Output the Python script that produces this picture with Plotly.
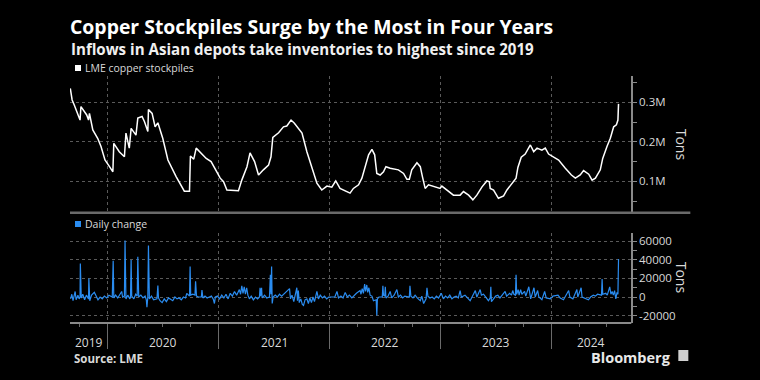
import plotly.graph_objects as go
import pandas as pd

# ---------------- data ----------------
stock_dates = [
    "2019-09-01", "2019-09-07", "2019-09-14", "2019-09-27", "2019-10-03", "2019-10-06",
    "2019-10-17", "2019-10-25", "2019-10-31", "2019-11-03", "2019-11-14", "2019-11-30",
    "2019-12-11", "2019-12-24", "2020-01-08", "2020-01-19", "2020-01-22", "2020-02-09",
    "2020-02-26", "2020-03-02", "2020-03-13", "2020-03-19", "2020-04-04", "2020-04-10",
    "2020-04-24", "2020-05-02", "2020-05-13", "2020-05-15", "2020-05-27", "2020-06-06",
    "2020-06-15", "2020-07-01", "2020-07-18", "2020-08-14", "2020-09-10", "2020-09-27",
    "2020-09-30", "2020-10-11", "2020-10-19", "2020-11-04", "2020-11-21", "2020-12-07",
    "2021-01-06", "2021-01-17", "2021-01-28", "2021-03-07", "2021-03-18", "2021-04-04",
    "2021-04-14", "2021-04-29", "2021-05-12", "2021-05-28", "2021-06-14", "2021-06-22",
    "2021-06-28", "2021-07-17", "2021-08-02", "2021-08-13", "2021-08-27", "2021-09-07",
    "2021-09-15", "2021-10-02", "2021-10-18", "2021-11-03", "2021-11-20", "2021-12-06",
    "2021-12-23", "2022-01-08", "2022-01-21", "2022-02-04", "2022-02-21", "2022-03-09",
    "2022-03-20", "2022-04-06", "2022-04-17", "2022-04-28", "2022-05-09", "2022-05-20",
    "2022-05-29", "2022-06-05", "2022-06-16", "2022-06-27", "2022-07-05", "2022-07-19",
    "2022-08-15", "2022-09-01", "2022-09-12", "2022-09-20", "2022-09-28", "2022-10-15",
    "2022-10-26", "2022-11-02", "2022-11-11", "2022-11-22", "2022-12-14", "2022-12-30",
    "2023-01-05", "2023-01-22", "2023-02-12", "2023-03-06", "2023-03-17", "2023-04-03",
    "2023-04-17", "2023-04-30", "2023-05-17", "2023-06-02", "2023-06-10", "2023-06-13",
    "2023-06-24", "2023-07-10", "2023-07-27", "2023-08-07", "2023-08-23", "2023-09-06",
    "2023-09-12", "2023-09-23", "2023-10-06", "2023-10-17", "2023-10-23", "2023-11-03",
    "2023-11-14", "2023-11-30", "2023-12-11", "2023-12-22", "2024-01-07", "2024-01-24",
    "2024-02-15", "2024-03-06", "2024-03-19", "2024-04-04", "2024-04-15", "2024-05-02",
    "2024-05-13", "2024-05-24", "2024-06-09", "2024-06-17", "2024-07-01", "2024-07-12",
    "2024-07-23", "2024-08-01", "2024-08-06", "2024-08-08",
]
stock_values = [
    335000, 306000, 293000, 270000, 255000, 289000,
    276000, 268000, 255000, 272000, 230000, 209000,
    188000, 154000, 137000, 124000, 196000, 175000,
    162000, 222000, 184000, 234000, 217000, 260000,
    264000, 251000, 226000, 282000, 272000, 238000,
    248000, 209000, 154000, 112000, 75000, 75000,
    164000, 156000, 184000, 172000, 158000, 150000,
    108000, 99000, 78000, 76000, 103000, 137000,
    172000, 150000, 116000, 129000, 141000, 162000,
    211000, 223000, 238000, 240000, 255000, 247000,
    238000, 222000, 175000, 133000, 95000, 78000,
    88000, 85000, 101000, 82000, 76000, 70000,
    82000, 91000, 108000, 141000, 167000, 181000,
    167000, 120000, 116000, 124000, 137000, 133000,
    129000, 120000, 105000, 105000, 129000, 147000,
    137000, 112000, 82000, 91000, 86000, 82000,
    88000, 78000, 65000, 65000, 74000, 65000,
    53000, 65000, 86000, 101000, 99000, 82000,
    78000, 57000, 63000, 78000, 93000, 108000,
    135000, 161000, 169000, 184000, 192000, 175000,
    184000, 179000, 184000, 169000, 161000, 154000,
    133000, 116000, 108000, 116000, 127000, 118000,
    103000, 108000, 129000, 158000, 188000, 209000,
    238000, 243000, 255000, 296000,
]

change_dates = [
    "2019-09-02", "2019-09-06", "2019-09-10", "2019-09-14", "2019-09-17", "2019-09-20",
    "2019-09-26", "2019-09-30", "2019-10-03", "2019-10-04", "2019-10-07", "2019-10-12",
    "2019-10-18", "2019-10-24", "2019-10-31", "2019-11-01", "2019-11-04", "2019-11-10",
    "2019-11-19", "2019-11-25", "2019-12-01", "2019-12-08", "2019-12-15", "2019-12-22",
    "2019-12-30", "2020-01-06", "2020-01-17", "2020-01-20", "2020-01-22", "2020-01-28",
    "2020-02-04", "2020-02-17", "2020-02-20", "2020-02-26", "2020-02-28", "2020-03-02",
    "2020-03-08", "2020-03-15", "2020-03-17", "2020-03-19", "2020-03-21", "2020-03-28",
    "2020-04-03", "2020-04-08", "2020-04-10", "2020-04-13", "2020-04-20", "2020-04-27",
    "2020-05-04", "2020-05-08", "2020-05-10", "2020-05-13", "2020-05-15", "2020-05-18",
    "2020-05-25", "2020-06-01", "2020-06-12", "2020-06-15", "2020-06-17", "2020-06-22",
    "2020-06-29", "2020-07-06", "2020-07-13", "2020-07-20", "2020-07-27", "2020-08-03",
    "2020-08-10", "2020-08-17", "2020-08-24", "2020-08-31", "2020-09-07", "2020-09-14",
    "2020-09-18", "2020-09-27", "2020-09-29", "2020-10-01", "2020-10-08", "2020-10-15",
    "2020-10-17", "2020-10-20", "2020-10-27", "2020-11-05", "2020-11-07", "2020-11-10",
    "2020-11-17", "2020-11-24", "2020-12-01", "2020-12-08", "2020-12-14", "2020-12-18",
    "2020-12-21", "2020-12-28", "2021-01-04", "2021-01-11", "2021-01-18", "2021-01-25",
    "2021-02-01", "2021-02-08", "2021-02-15", "2021-02-22", "2021-03-01", "2021-03-10",
    "2021-03-14", "2021-03-18", "2021-03-22", "2021-03-26", "2021-03-30", "2021-04-03",
    "2021-04-07", "2021-04-12", "2021-04-18", "2021-04-25", "2021-05-02", "2021-05-09",
    "2021-05-15", "2021-05-17", "2021-05-19", "2021-05-22", "2021-05-24", "2021-06-01",
    "2021-06-08", "2021-06-17", "2021-06-20", "2021-06-22", "2021-06-24", "2021-06-26",
    "2021-06-29", "2021-07-06", "2021-07-13", "2021-07-20", "2021-07-27", "2021-08-22",
    "2021-08-25", "2021-08-30", "2021-09-05", "2021-09-10", "2021-09-15", "2021-09-17",
    "2021-09-20", "2021-09-23", "2021-09-28", "2021-10-03", "2021-10-07", "2021-10-12",
    "2021-10-18", "2021-10-23", "2021-10-28", "2021-11-02", "2021-11-07", "2021-11-12",
    "2021-11-20", "2021-11-25", "2021-12-01", "2021-12-08", "2021-12-15", "2021-12-22",
    "2021-12-29", "2022-01-18", "2022-01-25", "2022-01-30", "2022-02-07", "2022-02-14",
    "2022-02-21", "2022-02-28", "2022-03-07", "2022-03-15", "2022-03-23", "2022-03-30",
    "2022-04-11", "2022-04-14", "2022-04-18", "2022-04-22", "2022-04-26", "2022-04-29",
    "2022-05-03", "2022-05-06", "2022-05-10", "2022-05-14", "2022-05-20", "2022-05-25",
    "2022-06-03", "2022-06-05", "2022-06-07", "2022-06-12", "2022-06-23", "2022-06-25",
    "2022-06-27", "2022-07-01", "2022-07-03", "2022-07-05", "2022-07-12", "2022-07-19",
    "2022-07-24", "2022-08-01", "2022-08-10", "2022-08-15", "2022-08-22", "2022-08-29",
    "2022-09-05", "2022-09-20", "2022-09-22", "2022-09-25", "2022-10-02", "2022-10-09",
    "2022-10-16", "2022-10-26", "2022-10-31", "2022-11-06", "2022-11-14", "2022-11-17",
    "2022-11-20", "2022-11-27", "2022-12-04", "2022-12-11", "2022-12-18", "2022-12-25",
    "2023-01-03", "2023-01-10", "2023-01-17", "2023-01-24", "2023-01-31", "2023-02-07",
    "2023-02-14", "2023-02-21", "2023-02-28", "2023-03-06", "2023-03-10", "2023-03-22",
    "2023-04-08", "2023-04-15", "2023-04-25", "2023-04-30", "2023-05-11", "2023-05-15",
    "2023-05-22", "2023-06-07", "2023-06-13", "2023-06-15", "2023-06-17", "2023-06-24",
    "2023-07-01", "2023-07-08", "2023-07-15", "2023-08-01", "2023-08-06", "2023-08-16",
    "2023-08-22", "2023-08-26", "2023-08-30", "2023-09-04", "2023-09-06", "2023-09-08",
    "2023-09-13", "2023-09-16", "2023-09-21", "2023-09-25", "2023-10-04", "2023-10-08",
    "2023-10-18", "2023-10-24", "2023-11-04", "2023-11-08", "2023-11-16", "2023-11-20",
    "2023-11-30", "2023-12-09", "2023-12-14", "2023-12-28", "2024-01-05", "2024-01-22",
    "2024-01-29", "2024-02-09", "2024-02-26", "2024-03-01", "2024-03-11", "2024-03-24",
    "2024-03-27", "2024-04-07", "2024-04-10", "2024-05-01", "2024-05-08", "2024-05-17",
    "2024-05-24", "2024-05-31", "2024-06-13", "2024-06-15", "2024-06-17", "2024-06-27",
    "2024-07-02", "2024-07-10", "2024-07-14", "2024-07-18", "2024-07-22", "2024-07-26",
    "2024-07-30", "2024-08-03", "2024-08-06", "2024-08-08",
]
change_values = [
    -2000, 3000, -4000, 1000, 6000, -3000,
    2000, -2000, 0, 36000, -1000, 3000,
    -3000, 2000, -2000, 20000, -4000, 2000,
    5000, 1000, -3000, 0, -2000, 1000,
    -1000, 2000, 0, 39000, -1000, 2000,
    -1000, 6000, 0, 1000, 61000, -2000,
    2000, -2000, 0, 40000, 1000, -2000,
    3000, 1000, 43500, 0, 2000, -1000,
    1000, -3000, -11000, 0, 55500, -2000,
    1000, -3000, -2000, 12500, -1000, -4000,
    -6000, -2000, -5000, -1000, -3000, -4000,
    0, -2000, -1000, -3000, 0, -1000,
    4000, 1000, 33000, 2000, 3000, 2000,
    17000, 1000, 0, 0, 7500, -1000,
    1000, -1000, 0, 1000, -2000, -7000,
    0, 1000, -2000, 2000, -1000, 3000,
    -2000, 4000, 1000, 6000, 2000, 8000,
    3000, 12000, 4000, 11000, 3000, 10000,
    2000, -2000, 1000, -3000, 0, -2000,
    0, 10000, 1000, 10000, -1000, 2000,
    -1000, 0, 24000, 3000, 33000, -7000,
    0, 2000, 0, 3000, 1000, 9000,
    -2000, 2000, -5000, 2000, 10000, -4000,
    7000, -6000, -2000, -8000, -9000, -3000,
    -2000, -7000, -1000, -6000, 0, -5000,
    6000, -2000, 2000, -1000, 1000, -2000,
    0, 0, 6000, -1000, 1000, -1000,
    5000, 0, 2000, -1000, 2000, 4000,
    7000, 3000, 9000, 4000, 14000, 6000,
    13000, 5000, 10000, 2000, 1000, -4000,
    -3000, -20000, -2000, 0, 0, 12000,
    2000, 1000, 11000, -1000, 1000, 6000,
    -1000, 2000, 8000, 0, 2000, -1000,
    1000, 0, 12000, 1000, -1000, 2000,
    -1000, -4000, 1000, -7000, -2000, 10000,
    1000, -1000, 0, -2000, 1000, -1000,
    4000, -2000, 1000, -1000, 2000, -2000,
    0, 1000, -1000, 7000, 0, 2000,
    -4000, 1000, 7000, 0, 8000, 2000,
    3000, -4000, -1000, 11000, -5000, -2000,
    1000, 2000, -1000, 6000, 1000, 4000,
    2000, 7000, 3000, 2000, 24000, 3000,
    8000, 2000, 8000, 3000, 6000, 1000,
    11000, -2000, 10000, 0, 7000, 0,
    -3000, 6000, -1000, -2000, 1000, 2000,
    -1000, -3000, 7000, 0, -2000, 8000,
    0, 10000, 0, -3000, 0, 2000,
    1000, 3000, 2000, 19500, 3000, 4000,
    2000, 11000, 3000, 6000, 2000, 7000,
    -2000, 5000, 3000, 41000,
]

top_tick_vals = [100000, 200000, 300000]
top_tick_text = ["0.1M", "0.2M", "0.3M"]
top_minor_vals = [50000, 150000, 250000, 350000]
bot_tick_vals = [-20000, 0, 20000, 40000, 60000]
bot_tick_text = ["-20000", "0", "20000", "40000", "60000"]
bot_minor_vals = [-10000, 10000, 30000, 50000]
year_labels = ["2019", "2020", "2021", "2022", "2023", "2024"]
x_range = ["2019-08-31", "2024-09-18"]

# ---------------- layout geometry (pixels) ----------------
WIDTH, HEIGHT = 760, 380
L, R = 70, 630.7
T, B = 76, 323
PW, PH = R - L, B - T


def px(x):
    return (x - L) / PW


def py(y):
    return (B - y) / PH


BG = "#000000"
BLUE = "#2a8cf0"
GRID = "#5a5a5a"
AXIS = "#8a8a8a"
TXT = "#d9d9d9"
FONT = "Open Sans"

chg = pd.DataFrame({"d": pd.to_datetime(change_dates), "v": change_values}).sort_values("d")

fig = go.Figure()
fig.add_trace(go.Scatter(x=pd.to_datetime(stock_dates), y=stock_values, mode="lines",
                         line=dict(color="#ffffff", width=1.5), xaxis="x", yaxis="y",
                         hoverinfo="skip", showlegend=False))
fig.add_trace(go.Scatter(x=chg["d"], y=chg["v"], mode="lines",
                         line=dict(color=BLUE, width=1.2), xaxis="x2", yaxis="y2",
                         hoverinfo="skip", showlegend=False))

common_x = dict(type="date", range=x_range, tick0="2020-01-01", dtick="M12",
                showgrid=True, gridcolor=GRID, griddash="dot", gridwidth=1,
                zeroline=False, showticklabels=False)

fig.update_layout(
    width=WIDTH, height=HEIGHT,
    paper_bgcolor=BG, plot_bgcolor=BG,
    margin=dict(l=L, r=WIDTH - R, t=T, b=HEIGHT - B, autoexpand=False),
    font=dict(family=FONT, color=TXT, size=11),
    showlegend=False,
    xaxis=dict(**common_x, anchor="y", ticks="", showline=False),
    xaxis2=dict(**common_x, anchor="y2", matches="x", showline=False,
                ticks="outside", ticklen=25, tickwidth=1, tickcolor="#6a6a6a",
                minor=dict(dtick="M3", tick0="2020-01-01", ticks="outside",
                           ticklen=3, tickcolor="#6a6a6a", showgrid=False)),
    yaxis=dict(domain=[py(212), 1], side="right", anchor="x",
               range=[22300, 366600], tickvals=top_tick_vals, ticktext=top_tick_text,
               showgrid=True, gridcolor=GRID, griddash="dot", zeroline=False,
               showline=True, linecolor=AXIS, linewidth=1.5,
               ticks="outside", ticklen=4, tickcolor=AXIS,
               minor=dict(tickvals=top_minor_vals, ticks="outside", ticklen=4,
                          tickcolor=AXIS, showgrid=False),
               tickfont=dict(size=11.5, color=TXT)),
    yaxis2=dict(domain=[0, py(233)], side="right", anchor="x2",
                range=[-28000, 69000], tickvals=bot_tick_vals, ticktext=bot_tick_text,
                showgrid=True, gridcolor=GRID, griddash="dot", zeroline=False,
                showline=True, linecolor=AXIS, linewidth=1.5,
                ticks="outside", ticklen=4, tickcolor=AXIS,
                minor=dict(tickvals=bot_minor_vals, ticks="outside", ticklen=4,
                           tickcolor=AXIS, showgrid=False),
                tickfont=dict(size=11.5, color=TXT)),
)

shapes = [
    # separator under the top panel
    dict(type="line", xref="paper", yref="paper", x0=px(70), x1=px(690), y0=py(212.7), y1=py(212.7),
         line=dict(color="#6a6a6a", width=2.5)),
    # bottom axis line
    dict(type="line", xref="paper", yref="paper", x0=px(70), x1=px(631), y0=py(323), y1=py(323),
         line=dict(color="#8a8a8a", width=2)),
    # legend squares
    dict(type="rect", xref="paper", yref="paper", x0=px(75), x1=px(81), y0=py(71), y1=py(65),
         fillcolor="#ffffff", line=dict(width=0)),
    dict(type="rect", xref="paper", yref="paper", x0=px(75), x1=px(81), y0=py(227), y1=py(221),
         fillcolor=BLUE, line=dict(width=0)),
    # bloomberg icon
    dict(type="rect", xref="paper", yref="paper", x0=px(678), x1=px(688), y0=py(361), y1=py(350),
         fillcolor="#d0d0d0", line=dict(width=0)),
]
fig.update_layout(shapes=shapes)

ann = [
    dict(text="<b>Copper Stockpiles Surge by the Most in Four Years</b>", x=px(68), y=py(26),
         font=dict(size=19.4, color="#ffffff")),
    dict(text="<b>Inflows in Asian depots take inventories to highest since 2019</b>", x=px(69), y=py(49.3),
         font=dict(size=15.1, color="#f0f0f0")),
    dict(text="LME copper stockpiles", x=px(82.5), y=py(68), font=dict(size=10.5, color=TXT)),
    dict(text="Daily change", x=px(82.5), y=py(224), font=dict(size=10.5, color=TXT)),
    dict(text="<b>Source: LME</b>", x=px(72), y=py(358), font=dict(size=11.5, color=TXT)),
    dict(text="<b>Bloomberg</b>", x=px(673), y=py(357), xanchor="right",
         font=dict(size=14.5, color="#e8e8e8")),
    dict(text="Tons", x=px(682), y=py(145), xanchor="center", textangle=90,
         font=dict(size=14, color=TXT)),
    dict(text="Tons", x=px(682), y=py(278), xanchor="center", textangle=90,
         font=dict(size=14, color=TXT)),
]
annotations = []
for a in ann:
    d = dict(xref="paper", yref="paper", xanchor="left", yanchor="middle", showarrow=False)
    d.update(a)
    annotations.append(d)

# year labels centred in the visible part of each year
r0, r1 = pd.Timestamp(x_range[0]), pd.Timestamp(x_range[1])
for lab in year_labels:
    s = max(r0, pd.Timestamp(f"{lab}-01-01"))
    e = min(r1, pd.Timestamp(f"{int(lab) + 1}-01-01"))
    mid = s + (e - s) / 2
    annotations.append(dict(text=lab, x=mid, xref="x2", y=py(342), yref="paper",
                            xanchor="center", yanchor="middle", showarrow=False,
                            font=dict(size=12, color=TXT)))

fig.update_layout(annotations=annotations)
fig.write_html("out.html",
               config={"displayModeBar": False},
               post_script="document.body.style.margin='0';document.body.style.background='#000';")
